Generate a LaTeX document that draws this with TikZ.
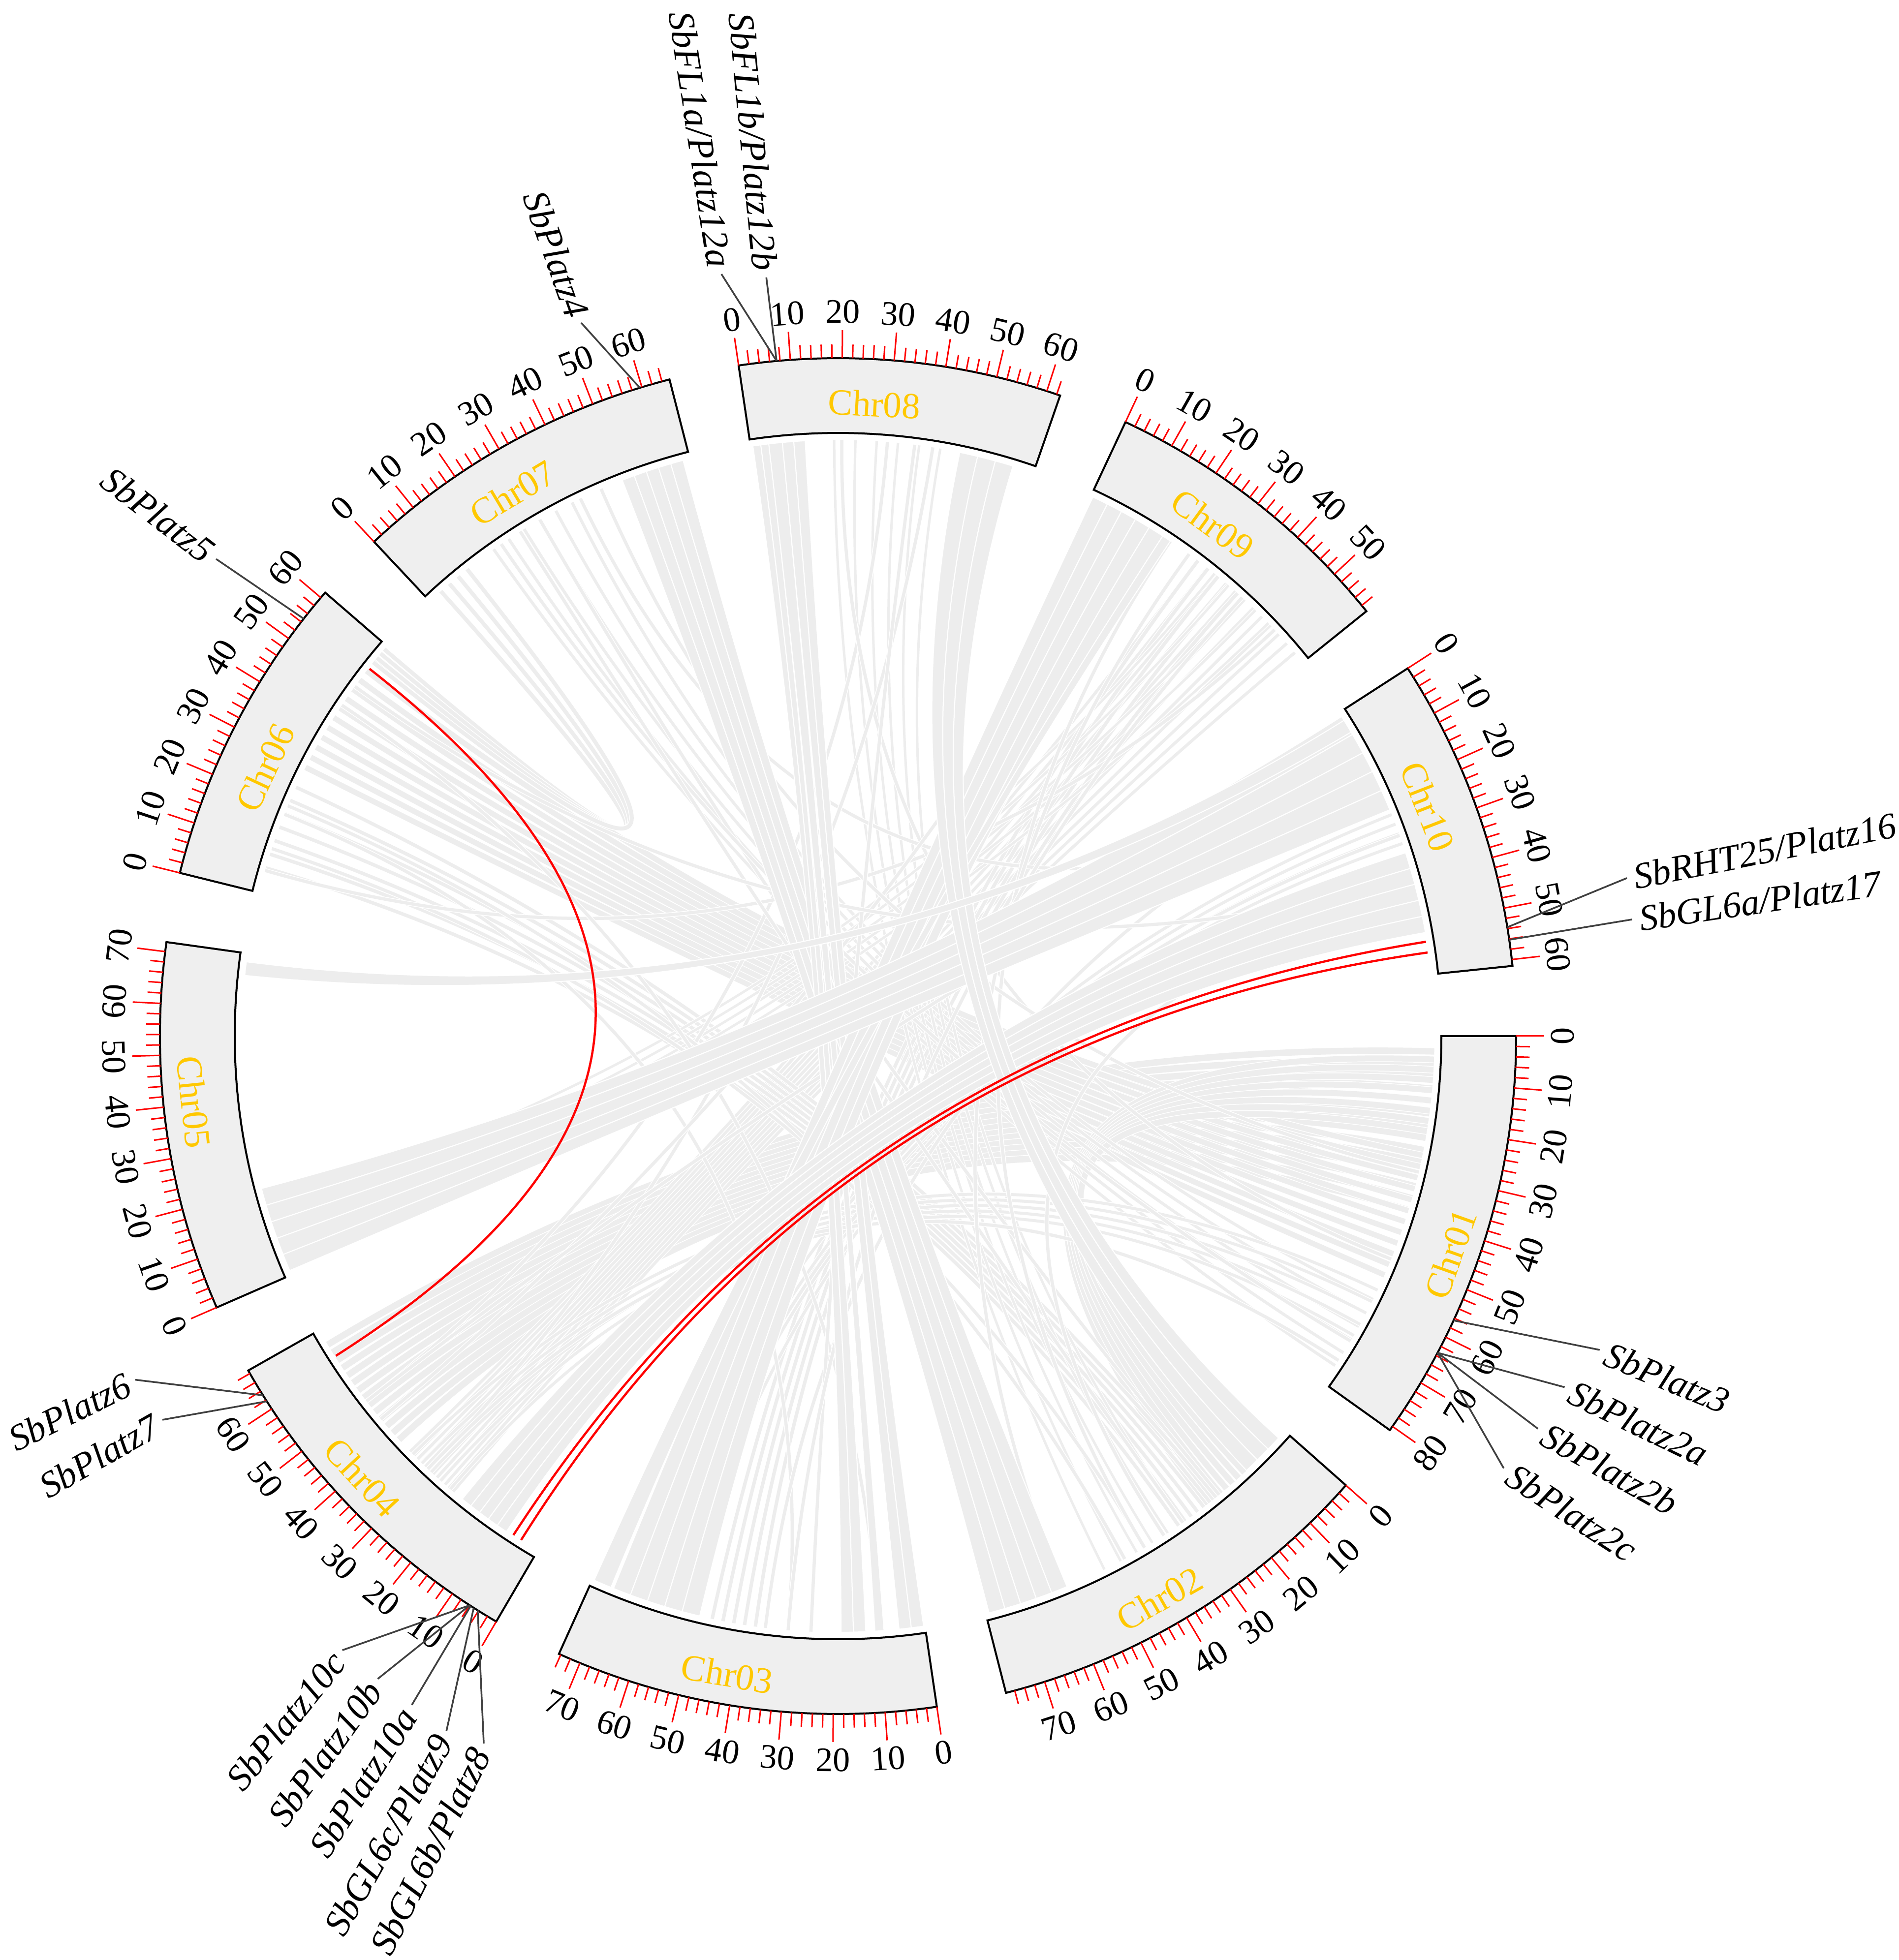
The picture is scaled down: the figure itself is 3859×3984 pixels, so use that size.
\documentclass[tikz,border=0pt]{standalone}
\usepackage{fontspec}
\setmainfont{Liberation Serif}
\definecolor{boxgrey}{RGB}{239,239,239}
\definecolor{linkgrey}{RGB}{237,237,237}
\definecolor{chrgold}{RGB}{255,200,0}
\definecolor{leadgrey}{RGB}{64,64,64}
\def\SC{0.4394}
\def\STARTS{{0,0,-41.50,-81.62,-120.27,-156.40,-193.93,-226.82,-261.57,-295.08,-327.15}}
\tikzset{
  chrbox/.style={fill=boxgrey, draw=black, line width=0.8pt, line join=miter},
  majtick/.style={draw=red, line width=0.6pt},
  ticklab/.style={font=\fontsize{14}{15}\selectfont, inner sep=0pt},
  chrlab/.style={font=\fontsize{15}{16}\selectfont, text=chrgold, inner sep=0pt},
  genelab/.style={font=\fontsize{15}{16}\selectfont\itshape, inner sep=0pt, text depth=0pt},
  leader/.style={draw=leadgrey, line width=0.7pt},
  glink/.style={draw=white, line width=0.3pt, double=linkgrey},
  gribbon/.style={fill=linkgrey, draw=white, line width=0.4pt},
  redlink/.style={draw=red, line width=0.9pt},
}
% thin links: chrA a1 a2 chrB b1 b2 count width
\newcommand\linkband[8]{%
  \foreach \k in {1,...,#7}{%
    \pgfmathsetmacro\fr{(\k-0.5)/#7}%
    \pgfmathsetmacro\ta{\STARTS[#1]-(#2+(#3-#2)*\fr)*\SC}%
    \pgfmathsetmacro\tb{\STARTS[#4]-(#6-(#6-#5)*\fr)*\SC}%
    \draw[glink, double distance=#8pt] (\ta:1212) .. controls (\ta:404) and (\tb:404) .. (\tb:1212);%
  }}
% ribbons: chrA a1 a2 chrB b1 b2 count
\newcommand\ribband[7]{%
  \foreach \k in {1,...,#7}{%
    \pgfmathsetmacro\aA{\STARTS[#1]-(#2+(#3-#2)*(\k-1)/#7)*\SC}%
    \pgfmathsetmacro\aB{\STARTS[#1]-(#2+(#3-#2)*\k/#7)*\SC}%
    \pgfmathsetmacro\bH{\STARTS[#4]-(#6-(#6-#5)*(\k-1)/#7)*\SC}%
    \pgfmathsetmacro\bL{\STARTS[#4]-(#6-(#6-#5)*\k/#7)*\SC}%
    \draw[gribbon] (\aA:1212) .. controls (\aA:404) and (\bH:404) .. (\bH:1212)
      arc[start angle=\bH, end angle=\bL, radius=1212]
      .. controls (\bL:404) and (\aB:404) .. (\aB:1212)
      arc[start angle=\aB, end angle=\aA, radius=1212] -- cycle;%
  }}
\newcommand\gene[7]{%
  \pgfmathsetmacro\rlab{#4+14}%
  \coordinate (#1s) at (#2:1378);%
  \coordinate (#1e) at (#3:#4);%
  \draw[leader] (#1s) -- (#1e);%
  \node[genelab, rotate=#5, anchor=#6] (#1) at (#3:\rlab) {#7};}
\begin{document}
\begin{tikzpicture}[x=0.2pt,y=0.2pt]
\fill[white] (-1703,-1878) rectangle (2156,2106);
\useasboundingbox (-1703,-1878) rectangle (2156,2106);
% ---------- grey links ----------
\linkband{1}{2}{40}{4}{38}{66}{14}{2.6}
\linkband{6}{28}{58}{1}{25}{55}{12}{2.2}
\linkband{1}{4}{22}{2}{10}{24}{8}{2.4}
\linkband{9}{26}{58}{4}{22}{36}{12}{1.2}
\linkband{7}{2}{12}{6}{56}{61}{4}{1.6}
\linkband{3}{36}{48}{9}{26}{40}{5}{1.4}
\linkband{6}{4}{26}{2}{20}{32}{7}{1.4}
\linkband{7}{16}{40}{1}{58}{78}{6}{1.2}
\linkband{8}{16}{44}{2}{28}{52}{6}{1.0}
\linkband{10}{24}{33}{3}{52}{68}{4}{1.2}
\linkband{1}{56}{70}{4}{22}{36}{5}{1.2}
\linkband{9}{30}{50}{5}{2}{18}{5}{1.0}
\foreach \ca/\pa/\cb/\pb in {6/10/2/40, 6/18/3/30, 7/30/2/20, 10/30/3/60, 8/30/4/50, 6/5/9/50, 7/20/1/70, 2/45/6/20, 3/35/10/15, 8/20/1/50, 7/40/10/20, 4/30/8/40, 2/30/7/25, 3/10/6/45, 1/75/4/30, 9/20/2/40, 9/10/4/45, 10/10/4/50, 1/30/7/45, 2/60/9/25, 8/36/3/25, 9/40/3/30, 10/45/2/35, 6/50/10/40}{
  \linkband{\ca}{\pa}{\pa}{\cb}{\pb}{\pb}{1}{1.3}
}
\ribband{7}{50}{64}{2}{59}{77}{5}
\ribband{8}{0.5}{4}{3}{13}{18.4}{2}
\ribband{8}{4}{7}{3}{9}{11}{1}
\ribband{8}{7}{12}{3}{0.3}{5.7}{2}
\ribband{9}{0.5}{18}{3}{49.6}{69.4}{5}
\ribband{9}{18}{20}{3}{70}{74}{1}
\ribband{10}{34}{52}{4}{8}{20}{5}
\ribband{10}{1}{24}{5}{1}{20}{5}
\ribband{8}{46}{58}{2}{2}{12}{3}
\ribband{5}{67}{70}{10}{2}{5}{1}
% ---------- red links ----------
\coordinate (ra1) at (141.90:1210); \coordinate (rb1) at (212.49:1210);
\coordinate (ra2) at (9.12:1210);   \coordinate (rb2) at (236.96:1210);
\coordinate (ra3) at (8.07:1210);   \coordinate (rb3) at (237.84:1210);
\draw[redlink] (ra1) .. controls (141.90:403) and (212.49:403) .. (rb1);
\draw[redlink] (ra2) .. controls (9.12:403) and (236.96:403) .. (rb2);
\draw[redlink] (ra3) .. controls (8.07:403) and (237.84:403) .. (rb3);
% ---------- chromosomes ----------
\foreach \i/\st/\len/\mx in {1/0/80.88/80, 2/-41.50/77.74/76, 3/-81.62/74.39/74, 4/-120.27/68.66/68, 5/-156.40/71.85/70, 6/-193.93/61.28/60, 7/-226.82/65.51/64, 8/-261.57/62.69/62, 9/-295.08/59.42/58, 10/-327.15/61.23/60}{
  \pgfmathsetmacro\en{\st-\len*\SC}
  \draw[chrbox] (\st:1226) -- (\st:1378) arc[start angle=\st, end angle=\en, radius=1378] -- (\en:1226) arc[start angle=\en, end angle=\st, radius=1226] -- cycle;
  \foreach \m in {0,2,...,\mx}{
    \pgfmathsetmacro\ta{\st-\m*\SC}
    \pgfmathtruncatemacro\isMaj{mod(\m,10)==0 ? 1 : 0}
    \ifnum\isMaj=1
      \draw[majtick] (\ta:1378) -- (\ta:1435);
      \pgfmathsetmacro\rr{mod(\ta-90+900,360)-180}
      \pgfmathsetmacro\rot{\rr>90 ? \rr-180 : (\rr<-90 ? \rr+180 : \rr)}
      \node[ticklab, rotate=\rot] (tl-\i-\m) at (\ta:1472) {\m};
    \else
      \draw[majtick] (\ta:1378) -- (\ta:1406);
    \fi
  }
}
% ---------- chromosome names ----------
\foreach \i/\t/\r in {01/-19.57/1321, 02/-60.28/1317, 03/-99.86/1316, 04/-137.14/1319, 05/-174.14/1316, 06/154.88/1286, 07/120.93/1287, 08/86.73/1287, 09/53.82/1289, 10/21.28/1286}{
  \pgfmathsetmacro\rr{mod(\t-90+900,360)-180}
  \pgfmathsetmacro\rot{\rr>90 ? \rr-180 : (\rr<-90 ? \rr+180 : \rr)}
  \node[chrlab, rotate=\rot] (chr\i) at (\t:\r) {Chr\i};
}
% ---------- gene labels ----------
\gene{ga}{95.2}{98.7}{1567}{-81.3}{east}{SbFL1a/Platz12a}
\gene{gb}{95.2}{95.4}{1549}{-84.6}{east}{SbFL1b/Platz12b}
\gene{gc}{107.0}{109.8}{1541}{-70.2}{east}{SbPlatz4}
\gene{gd}{142.0}{142.5}{1593}{-37.5}{east}{SbPlatz5}
\gene{ge}{212.0}{206.06}{1590}{26.06}{east}{SbPlatz6}
\gene{gf}{212.6}{209.6}{1579}{29.6}{east}{SbPlatz7}
\gene{gg}{237.1}{231.1}{1604}{51.1}{east}{SbPlatz10c}
\gene{gh}{237.1}{234.4}{1607}{54.4}{east}{SbPlatz10b}
\gene{gi}{237.2}{237.5}{1612}{57.5}{east}{SbPlatz10a}
\gene{gj}{237.5}{240.6}{1621}{60.6}{east}{SbGL6c/Platz9}
\gene{gk}{237.9}{243.4}{1608}{63.4}{east}{SbGL6b/Platz8}
\gene{gl}{-27.85}{-33.0}{1613}{-33.0}{west}{SbPlatz2c}
\gene{gm}{-27.85}{-29.3}{1631}{-29.3}{west}{SbPlatz2b}
\gene{gn}{-27.85}{-25.8}{1640}{-25.8}{west}{SbPlatz2a}
\gene{go}{-24.8}{-22.4}{1674}{-22.4}{west}{SbPlatz3}
\gene{gp}{8.17}{8.36}{1631}{8.36}{west}{SbGL6a/Platz17}
\gene{gq}{9.24}{11.33}{1635}{11.33}{west}{SbRHT25/Platz16}
\end{tikzpicture}
\end{document}
